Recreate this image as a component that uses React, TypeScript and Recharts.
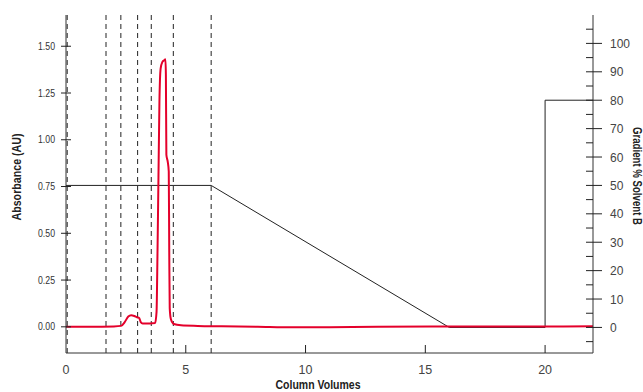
import { LineChart, Line, XAxis, YAxis, ReferenceLine, Label } from "recharts";

// column volumes vs absorbance (AU)
const absCV = [0, 1, 2, 2.3, 2.45, 2.6, 2.72, 2.85, 2.98, 3.05, 3.12, 3.2, 3.5, 3.72, 3.78, 3.82, 3.86, 3.9, 3.95, 4.02, 4.1, 4.15, 4.17, 4.19, 4.25, 4.29, 4.31, 4.33, 4.38, 4.5, 4.8, 5.5, 6.5, 8, 9.5, 11, 13, 16, 20, 22];
const absAU = [0, 0, 0.002, 0.005, 0.025, 0.055, 0.062, 0.058, 0.05, 0.048, 0.025, 0.018, 0.018, 0.02, 0.08, 0.4, 0.8, 1.2, 1.38, 1.415, 1.425, 1.43, 1.35, 0.92, 0.88, 0.83, 0.4, 0.1, 0.04, 0.015, 0.008, 0.005, 0.003, 0, -0.003, -0.002, 0, 0.002, 0.002, 0.003];

// gradient program (% solvent B)
const gradCV = [0, 6.06, 16, 20, 20, 22];
const gradB = [50, 50, 0, 0, 80, 80];

// fraction markers
const fractions = [0.05, 1.67, 2.29, 2.99, 3.56, 4.48, 6.06];

const xTicks = [0, 5, 10, 15, 20];
const auTicks = [0, 0.25, 0.5, 0.75, 1.0, 1.25, 1.5];
const pctTicks = [-5, 0, 5, 10, 15, 20, 25, 30, 35, 40, 45, 50, 55, 60, 65, 70, 75, 80, 85, 90, 95, 100, 105];

const absData = absCV.map((cv, i) => ({ cv, au: absAU[i] }));
const gradData = gradCV.map((cv, i) => ({ cv, b: gradB[i] }));

const sans = "'Liberation Sans', Arial, sans-serif";

const LeftTick = (p: any) => {
  const { x, y, payload } = p;
  return (
    <g>
      <line x1={x - 5} x2={x + 5} y1={y} y2={y} stroke="#222" />
      <text x={x - 11} y={y} dy={3.6} textAnchor="end" fontSize={10.5} fontFamily={sans} fill="#333" textLength={17} lengthAdjust="spacingAndGlyphs">
        {Number(payload.value).toFixed(2)}
      </text>
    </g>
  );
};

const RightTick = (p: any) => {
  const x = Number(p.x);
  const y = Number(p.y);
  const v = Math.round(Number(p.payload?.value));
  const major = Math.abs(v % 10) === 0;
  return (
    <g>
      <line x1={x - 7} x2={major ? x + 9 : x} y1={y} y2={y} stroke="#222" />
      {major ? (
        <text x={x + 17} y={y + 4.5} textAnchor="start" fontSize={12} fontFamily={sans} fill="#444">
          {String(v)}
        </text>
      ) : null}
    </g>
  );
};

const BottomTick = (p: any) => {
  const { x, y, payload } = p;
  return (
    <g>
      {payload.value > 0 && <line x1={x} x2={x} y1={y} y2={y - 8} stroke="#222" />}
      <text x={x} y={y + 21} textAnchor="middle" fontSize={12.5} fontFamily={sans} fill="#444">
        {payload.value}
      </text>
    </g>
  );
};

export default function App() {
  return (
    <div style={{ position: "absolute", left: 0, top: 0, background: "#fff" }}>
      <LineChart width={643} height={392} margin={{ top: 15, right: 0, bottom: 0, left: 0 }}>
        <XAxis
          dataKey="cv"
          type="number"
          domain={[0, 22]}
          ticks={xTicks}
          interval={0}
          allowDataOverflow
          height={39}
          tickSize={0}
          tickMargin={0}
          tickLine={false}
          tick={BottomTick}
          axisLine={{ stroke: "#333" }}
        >
          <Label
            content={() => (
              <text x={318} y={389} textAnchor="middle" fontSize={12.5} fontWeight="bold" fontFamily={sans} fill="#222" textLength={85} lengthAdjust="spacingAndGlyphs">
                Column Volumes
              </text>
            )}
          />
        </XAxis>
        <XAxis xAxisId="top" orientation="top" type="number" domain={[0, 22]} height={0} tick={false} tickLine={false} axisLine={{ stroke: "#666" }} />
        <YAxis
          yAxisId="au"
          orientation="left"
          type="number"
          domain={[-0.14, 1.667]}
          ticks={auTicks}
          interval={0}
          allowDataOverflow
          width={66}
          tickSize={0}
          tickMargin={0}
          tickLine={false}
          tick={LeftTick}
          axisLine={{ stroke: "#333" }}
        >
          <Label
            content={() => (
              <text x={17} y={177} transform="rotate(-90, 17, 177)" textAnchor="middle" dominantBaseline="central" fontSize={12.5} fontWeight="bold" fontFamily={sans} fill="#222" textLength={87} lengthAdjust="spacingAndGlyphs">
                Absorbance (AU)
              </text>
            )}
          />
        </YAxis>
        <YAxis
          yAxisId="pct"
          orientation="right"
          type="number"
          domain={[-9, 110]}
          ticks={pctTicks}
          interval={0}
          allowDataOverflow
          width={50}
          tickSize={0}
          tickMargin={0}
          tickLine={false}
          tick={RightTick}
          axisLine={{ stroke: "#333" }}
        >
          <Label
            content={() => (
              <text x={637} y={176} transform="rotate(90, 637, 176)" textAnchor="middle" dominantBaseline="central" fontSize={12.5} fontWeight="bold" fontFamily={sans} fill="#222" textLength={98} lengthAdjust="spacingAndGlyphs">
                Gradient % Solvent B
              </text>
            )}
          />
        </YAxis>
        {fractions.map((f) => (
          <ReferenceLine key={f} x={f} yAxisId="au" stroke="#222" strokeDasharray="5 4" strokeWidth={1} />
        ))}
        <Line
          yAxisId="pct"
          data={gradData}
          dataKey="b"
          type="linear"
          stroke="#222"
          strokeWidth={1}
          dot={false}
          isAnimationActive={false}
        />
        <Line
          yAxisId="au"
          data={absData}
          dataKey="au"
          type="monotone"
          stroke="#e4002b"
          strokeWidth={2}
          dot={false}
          isAnimationActive={false}
        />
      </LineChart>
    </div>
  );
}
